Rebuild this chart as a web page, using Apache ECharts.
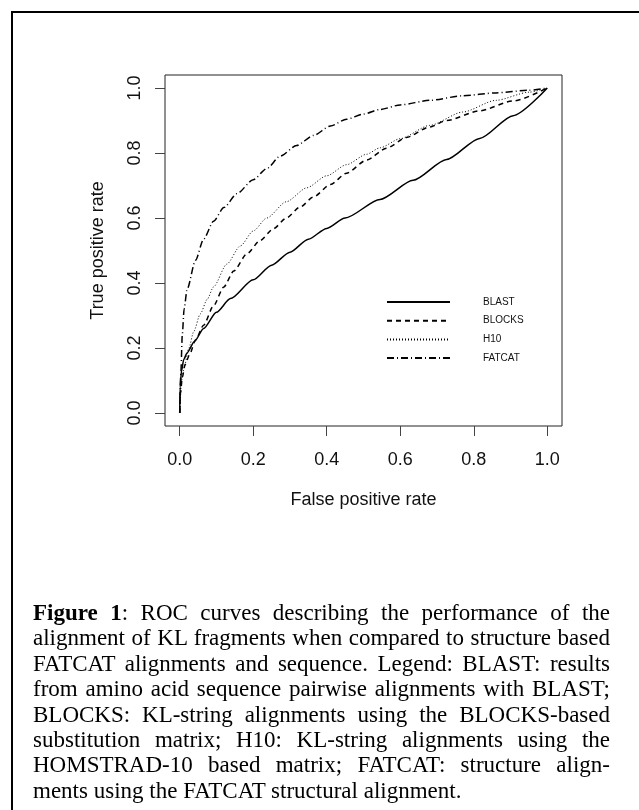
<!DOCTYPE html>
<html lang="en">

<head>
    <meta charset="UTF-8">
    <style>
    html,
    body {
        height: 100%;
        margin: 0;
        background: #fff;
    }
    #chart {
        position: absolute;
        left: 0;
        top: 0;
        width: 639px;
        height: 810px;
    }
    #caption {
        position: absolute;
        left: 33px;
        top: 600px;
        width: 577px;
        font-family: "Liberation Serif", "Times New Roman", serif;
        font-size: 23px;
        line-height: 25.4px;
        color: #000;
    }
    #caption div {
        text-align: justify;
        text-align-last: justify;
        white-space: nowrap;
    }
    #caption div.last {
        text-align-last: left;
    }
  </style>
</head>


<body>
<div id="chart"></div>
<div id="caption"></div>
<script src="https://cdn.jsdelivr.net/npm/echarts/dist/echarts.min.js"></script>
<script>
    // ROC points [false positive rate, true positive rate]
    var blast = [[0,0],[0.001,0.08],[0.005,0.13],[0.011,0.165],[0.02,0.185],[0.04,0.22],[0.065,0.26],
        [0.1,0.31],[0.138,0.352],[0.2,0.41],[0.25,0.455],[0.3,0.495],[0.35,0.535],[0.4,0.568],
        [0.45,0.6],[0.545,0.657],[0.635,0.716],[0.726,0.78],[0.816,0.845],[0.907,0.915],[1,1]];
    var blocks = [[0,0],[0.002,0.06],[0.007,0.11],[0.015,0.15],[0.027,0.18],[0.043,0.225],[0.065,0.27],
        [0.092,0.33],[0.12,0.388],[0.147,0.437],[0.183,0.49],[0.219,0.531],[0.255,0.567],[0.29,0.6],
        [0.328,0.634],[0.364,0.665],[0.41,0.703],[0.454,0.738],[0.508,0.778],[0.563,0.815],[0.617,0.848],
        [0.68,0.88],[0.726,0.9],[0.816,0.93],[0.907,0.96],[1,1]];
    var h10 = [[0,0],[0.005,0.1],[0.012,0.14],[0.025,0.2],[0.038,0.25],[0.056,0.305],[0.075,0.35],
        [0.092,0.388],[0.128,0.458],[0.165,0.514],[0.2,0.56],[0.237,0.6],[0.29,0.65],[0.346,0.693],
        [0.4,0.73],[0.454,0.764],[0.508,0.796],[0.545,0.816],[0.6,0.844],[0.68,0.885],[0.77,0.926],
        [0.86,0.962],[0.95,0.987],[1,1]];
    var fatcat = [[0,0],[0.003,0.12],[0.007,0.24],[0.012,0.32],[0.02,0.38],[0.043,0.47],[0.065,0.535],
        [0.092,0.59],[0.12,0.632],[0.156,0.675],[0.2,0.718],[0.237,0.752],[0.273,0.79],[0.318,0.823],
        [0.364,0.854],[0.41,0.883],[0.454,0.904],[0.5,0.92],[0.545,0.934],[0.6,0.948],[0.68,0.962],
        [0.77,0.976],[0.86,0.985],[0.95,0.993],[1,1]];
    var seriesNames = ['BLAST', 'BLOCKS', 'H10', 'FATCAT'];
    var tickValues = [0, 0.2, 0.4, 0.6, 0.8, 1.0];

    var captionLines = [
        '<b>Figure 1</b>: ROC curves describing the performance of the',
        'alignment of KL fragments when compared to structure based',
        'FATCAT alignments and sequence. Legend: BLAST: results',
        'from amino acid sequence pairwise alignments with BLAST;',
        'BLOCKS: KL-string alignments using the BLOCKS-based',
        'substitution matrix; H10: KL-string alignments using the',
        'HOMSTRAD-10 based matrix; FATCAT: structure align-',
        'ments using the FATCAT structural alignment.'
    ];
    document.getElementById('caption').innerHTML = captionLines.map(function (l, i) {
        return '<div' + (i === captionLines.length - 1 ? ' class="last"' : '') + '>' + l + '</div>';
    }).join('');

    var sansFont = '"Liberation Sans", Arial, sans-serif';

    function mkAxis(name, nameGap, labelMargin, labelRotate) {
        return {
            type: 'value',
            min: -0.04,
            max: 1.04,
            name: name,
            nameGap: nameGap,
            nameLocation: 'middle',
            nameTextStyle: {fontFamily: sansFont, fontSize: 18, color: '#111'},
            axisLine: {show: false, onZero: false},
            axisTick: {show: true, inside: false, length: 10, customValues: tickValues,
                lineStyle: {color: '#444', width: 1}},
            axisLabel: {customValues: tickValues, fontFamily: sansFont, fontSize: 18, color: '#111',
                margin: labelMargin, rotate: labelRotate,
                formatter: function (v) { return v.toFixed(1); }},
            splitLine: {show: false}
        };
    }

    var myChart = echarts.init(document.getElementById('chart'));
    myChart.setOption({
        animation: false,
        backgroundColor: '#fff',
        graphic: [{
            type: 'rect',
            shape: {x: 12, y: 12, width: 700, height: 900},
            style: {fill: null, stroke: '#000', lineWidth: 2}
        }],
        grid: {
            left: 165,
            top: 75,
            width: 397,
            height: 351,
            show: true,
            borderColor: '#222',
            borderWidth: 1
        },
        legend: {
            orient: 'vertical',
            left: 381,
            top: 292,
            itemWidth: 63,
            itemHeight: 12,
            itemGap: 8.7,
            data: seriesNames,
            itemStyle: {opacity: 0},
            textStyle: {fontFamily: sansFont, fontSize: 10, color: '#111', padding: [0, 0, 0, 28]}
        },
        xAxis: mkAxis('False positive rate', 65, 25, 0),
        yAxis: mkAxis('True positive rate', 58, 21, 90),
        series: [
            {name: 'BLAST', type: 'line', data: blast, symbol: 'none', smooth: 0.25, smoothMonotone: 'x',
                itemStyle: {color: '#000'}, lineStyle: {color: '#000', width: 1.5, type: 'solid'}},
            {name: 'BLOCKS', type: 'line', data: blocks, symbol: 'none', smooth: 0.25, smoothMonotone: 'x',
                itemStyle: {color: '#000'}, lineStyle: {color: '#000', width: 1.5, type: [5, 4]}},
            {name: 'H10', type: 'line', data: h10, symbol: 'none', smooth: 0.25, smoothMonotone: 'x',
                itemStyle: {color: '#000'}, lineStyle: {color: '#000', width: 1, type: [1, 2]}},
            {name: 'FATCAT', type: 'line', data: fatcat, symbol: 'none', smooth: 0.25, smoothMonotone: 'x',
                itemStyle: {color: '#000'}, lineStyle: {color: '#000', width: 1.5, type: [7, 3, 1, 3]}}
        ]
    });
</script>
</body>
</html>
